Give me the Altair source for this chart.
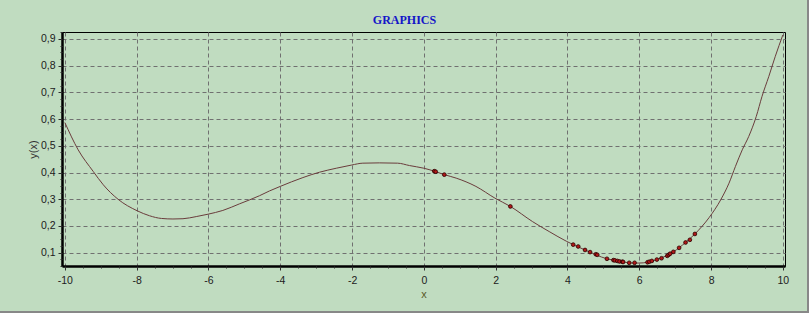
import altair as alt
import pandas as pd

# curve y(x)
curve_x = [-10, -9.63, -9.21, -8.93, -8.52, -7.99, -7.64, -7.31, -6.99, -6.71, -6.34, -6.01,
           -5.6, -5.13, -4.58, -4.3, -4.0, -3.37, -2.91, -2.44, -2.01, -1.7, -1.24, -0.73,
           -0.4, 0.0, 0.29, 0.57, 0.9, 1.45, 1.98, 2.41, 3.03, 3.49, 3.98, 4.49, 5.1, 5.53,
           5.8, 5.99, 6.23, 6.49, 6.95, 7.29, 7.55, 7.95, 8.27, 8.5, 8.68, 8.87, 9.05, 9.26,
           9.42, 9.61, 9.79, 10.0]
curve_y = [0.587, 0.485, 0.404, 0.354, 0.300, 0.257, 0.238, 0.228, 0.226, 0.227, 0.235, 0.244,
           0.258, 0.283, 0.313, 0.331, 0.348, 0.381, 0.401, 0.416, 0.428, 0.435, 0.436, 0.435,
           0.426, 0.416, 0.405, 0.392, 0.379, 0.348, 0.304, 0.273, 0.216, 0.179, 0.142, 0.110,
           0.077, 0.066, 0.061, 0.061, 0.064, 0.074, 0.103, 0.138, 0.170, 0.232, 0.298, 0.360,
           0.423, 0.485, 0.535, 0.610, 0.685, 0.760, 0.835, 0.915]

# sample points
pts_x = [0.29, 0.33, 0.57, 2.41, 4.16, 4.30, 4.49, 4.63, 4.79, 4.83, 5.10, 5.28, 5.32, 5.39,
         5.45, 5.53, 5.55, 5.72, 5.87, 6.23, 6.28, 6.35, 6.49, 6.62, 6.78, 6.82, 6.86, 6.95,
         7.11, 7.29, 7.41, 7.55]
pts_y = [0.405, 0.403, 0.392, 0.273, 0.130, 0.123, 0.110, 0.102, 0.094, 0.092, 0.077, 0.072,
         0.071, 0.069, 0.067, 0.066, 0.065, 0.062, 0.062, 0.064, 0.066, 0.069, 0.074, 0.079,
         0.088, 0.092, 0.096, 0.103, 0.118, 0.138, 0.148, 0.170]

x_major = [-10, -8, -6, -4, -2, 0, 2, 4, 6, 8, 10]
x_minor = [v / 2 for v in range(-20, 21)]
y_major = [0.1, 0.2, 0.3, 0.4, 0.5, 0.6, 0.7, 0.8, 0.9]
y_minor = [round(0.05 + 0.025 * i, 3) for i in range(0, 36)]

curve = pd.DataFrame({"x": curve_x, "y": curve_y})
pts = pd.DataFrame({"x": pts_x, "y": pts_y})

BG = "#C0DCC0"
LABEL_FONT = "Liberation Sans"

xs = alt.Scale(domain=[-10.08, 10.06], nice=False, zero=False)
ys = alt.Scale(domain=[0.050, 0.926], nice=False, zero=False)

major_x = alt.Axis(values=x_major, orient="bottom", grid=True, gridColor="#707070",
                   gridDash=[4, 3], gridWidth=1, domainColor="black", domainWidth=2.5,
                   tickColor="#303030", tickSize=4, labelExpr="'' + datum.value",
                   labelFont=LABEL_FONT, labelFontSize=10.5, labelColor="#202020",
                   labelPadding=5, labelFlush=False,
                   title="x", titleFont=LABEL_FONT, titleFontSize=11, titleFontWeight="normal",
                   titleColor="#5a5a28", titleY=31, titleBaseline="alphabetic")
major_y = alt.Axis(values=y_major, orient="left", grid=True, gridColor="#707070",
                   gridDash=[4, 3], gridWidth=1, domainColor="black", domainWidth=2.5,
                   tickColor="#303030", tickSize=4,
                   labelExpr="replace(format(datum.value, '.1f'), '.', ',')",
                   labelFont=LABEL_FONT, labelFontSize=10.5, labelColor="#202020",
                   labelPadding=3, labelFlush=False,
                   title="y(x)", titleFont=LABEL_FONT, titleFontSize=11, titleFontWeight="normal",
                   titleColor="#303030", titleAngle=270, titleX=-26, titleY=117,
                   titleBaseline="alphabetic")
minor_x = alt.Axis(values=x_minor, orient="bottom", grid=False, domain=False, labels=False,
                   ticks=True, tickSize=2, tickColor="#303030", title="")
minor_y = alt.Axis(values=y_minor, orient="left", grid=False, domain=False, labels=False,
                   ticks=True, tickSize=2, tickColor="#303030", title="")

line = alt.Chart(curve).mark_line(color="#6a3c3c", strokeWidth=1,
                                  interpolate="monotone").encode(
    x=alt.X("x:Q", scale=xs, axis=major_x),
    y=alt.Y("y:Q", scale=ys, axis=major_y),
)
dots = alt.Chart(pts).mark_circle(size=14, color="#b01818", stroke="#2a0000",
                                  strokeWidth=0.8, opacity=1).encode(
    x=alt.X("x:Q", scale=xs, axis=minor_x),
    y=alt.Y("y:Q", scale=ys, axis=minor_y),
)
edge_r = alt.Chart(curve).mark_rule(color="#888888", strokeWidth=2).encode(
    x=alt.value(746), y=alt.value(-32), y2=alt.value(281))
edge_b = alt.Chart(curve).mark_rule(color="#888888", strokeWidth=2).encode(
    x=alt.value(-62), x2=alt.value(747), y=alt.value(280))

chart = alt.layer(line, dots, edge_r, edge_b).resolve_axis(
    x="independent", y="independent"
).properties(
    width=723, height=234,
    padding={"left": 62, "top": 32, "right": 24, "bottom": 47},
    autosize="none",
    background=BG,
    title=alt.TitleParams(text="GRAPHICS", font="Liberation Serif", fontSize=12,
                          fontWeight="bold", color="#1414c8", anchor="middle",
                          frame="group", dx=-19, dy=45, offset=8, baseline="alphabetic"),
).configure_view(stroke="black", strokeWidth=1, fill=BG)

chart.save("out.html", embed_options={"renderer": "svg", "actions": False})
